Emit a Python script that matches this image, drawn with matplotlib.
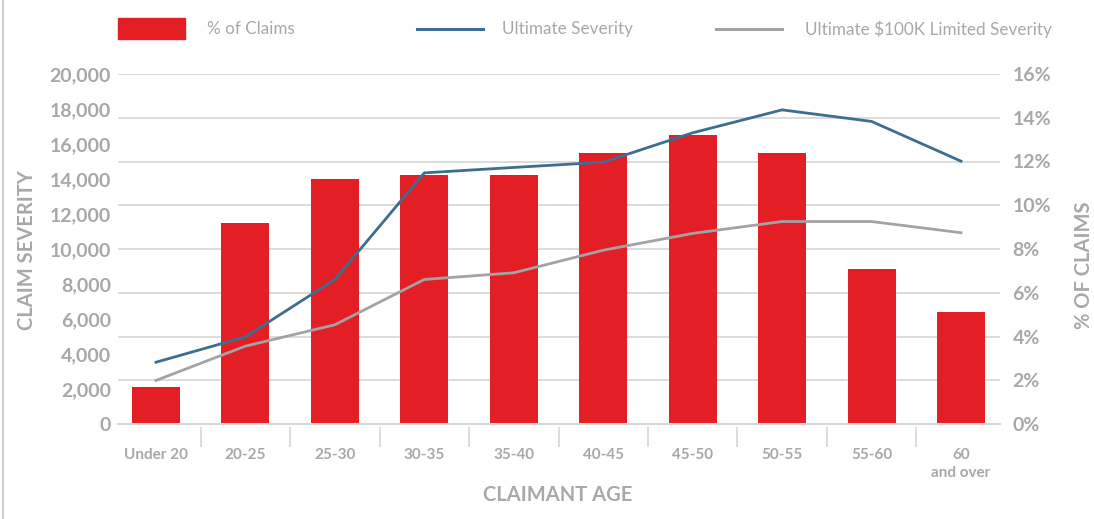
import matplotlib
matplotlib.use("Agg")
import matplotlib.pyplot as plt
from matplotlib.lines import Line2D
from matplotlib.patches import Rectangle
from matplotlib.ticker import FuncFormatter

# data
ages = ["Under 20", "20-25", "25-30", "30-35", "35-40", "40-45", "45-50", "50-55", "55-60", "60\nand over"]
pct_claims = [1.7, 9.2, 11.2, 11.4, 11.4, 12.4, 13.2, 12.4, 7.1, 5.1]
ult_severity = [3530, 4980, 8260, 14350, 14660, 14960, 16640, 17950, 17290, 15020]
ult_100k_severity = [2490, 4450, 5670, 8260, 8640, 9930, 10890, 11570, 11570, 10930]
series_names = ["% of Claims", "Ultimate Severity", "Ultimate $100K Limited Severity"]

RED = "#e31e24"
BLUE = "#3d6e8f"
GRAY_LINE = "#a3a3a5"
TXT = "#a6a8ab"
GRID = "#d9d9d9"
WEIGHT = "bold"

plt.rcParams["font.family"] = ["Lato", "DejaVu Sans"]

fig = plt.figure(figsize=(10.94, 5.19), dpi=100)
W, H = 1094, 519
ax = fig.add_axes([118 / W, 1 - 424 / H, 882 / W, 350 / H])
ax2 = ax.twinx()
x = list(range(len(ages)))

# bars -> right axis (%)
ax.bar(x, pct_claims, width=0.537, color=RED, zorder=2)
ax.set_ylim(0, 16)
ax.set_yticks(range(0, 17, 2))
ax.yaxis.set_major_formatter(FuncFormatter(lambda v, p: f"{int(v)}%"))
ax.yaxis.tick_right()
ax.yaxis.set_label_position("right")
ax.grid(axis="y", color=GRID, lw=1.3)
ax.set_axisbelow(True)
ax.set_xlim(-0.425, 9.436)
ax.set_xticks(x)
ax.set_xticklabels(ages)
for s in ["top", "left", "right"]:
    ax.spines[s].set_visible(False)
ax.spines["bottom"].set_color(GRID)
ax.spines["bottom"].set_linewidth(1.5)
ax.tick_params(axis="y", length=0, pad=9, labelsize=14, labelcolor=TXT)
ax.tick_params(axis="x", length=0, pad=17.5, labelsize=11, labelcolor=TXT)
for lab in ax.get_yticklabels() + ax.get_xticklabels():
    lab.set_fontweight(WEIGHT)
ax.get_xticklabels()[-1].set_linespacing(1.3)
ax.set_ylabel("% OF CLAIMS", fontsize=14.5, color=TXT, fontweight=WEIGHT, rotation=90)
ax.yaxis.set_label_coords(1.084, 0.454)
ax.set_xlabel("CLAIMANT AGE", fontsize=14.5, color=TXT, fontweight=WEIGHT)
ax.xaxis.set_label_coords(0.498, -0.174)

# separators between categories
seps = [i + 0.5 for i in range(len(ages) - 1)]
ax.vlines(seps, -0.0086, -0.066, transform=ax.get_xaxis_transform(),
          color=GRID, lw=1.3, clip_on=False)

# lines -> left axis (severity)
ax2.plot(x, ult_severity, color=BLUE, lw=2.0, zorder=3)
ax2.plot(x, ult_100k_severity, color=GRAY_LINE, lw=2.0, zorder=3)
ax2.set_ylim(0, 20000)
ax2.set_yticks(range(0, 20001, 2000))
ax2.yaxis.set_major_formatter(FuncFormatter(lambda v, p: f"{int(v):,}"))
ax2.yaxis.tick_left()
ax2.yaxis.set_label_position("left")
for s in ax2.spines.values():
    s.set_visible(False)
ax2.tick_params(axis="y", length=0, pad=5, labelsize=14, labelcolor=TXT)
for lab in ax2.get_yticklabels():
    lab.set_fontweight(WEIGHT)
ax2.set_ylabel("CLAIM SEVERITY", fontsize=14.5, color=TXT, fontweight=WEIGHT)
ax2.yaxis.set_label_coords(-0.092, 0.496)

# legend drawn in fixed-width columns
ly = 1 - 29 / H
fig.add_artist(Rectangle((118 / W, 1 - 39 / H), 67 / W, 21 / H, color=RED, transform=fig.transFigure))
fig.text(207 / W, ly, series_names[0], fontsize=12.3, color=TXT, va="center")
fig.add_artist(Line2D([417 / W, 483 / W], [ly, ly], color=BLUE, lw=2.2, transform=fig.transFigure))
fig.text(502 / W, ly, series_names[1], fontsize=12.3, color=TXT, va="center")
fig.add_artist(Line2D([716 / W, 782 / W], [ly, ly], color=GRAY_LINE, lw=2.2, transform=fig.transFigure))
fig.text(805 / W, ly, series_names[2], fontsize=12.3, color=TXT, va="center")

# thin frame line on the left edge
fig.add_artist(Line2D([2.5 / W, 2.5 / W], [0, 1], color="#d0d0d0", lw=1.5, transform=fig.transFigure))

fig.savefig("out.png", dpi=100)
